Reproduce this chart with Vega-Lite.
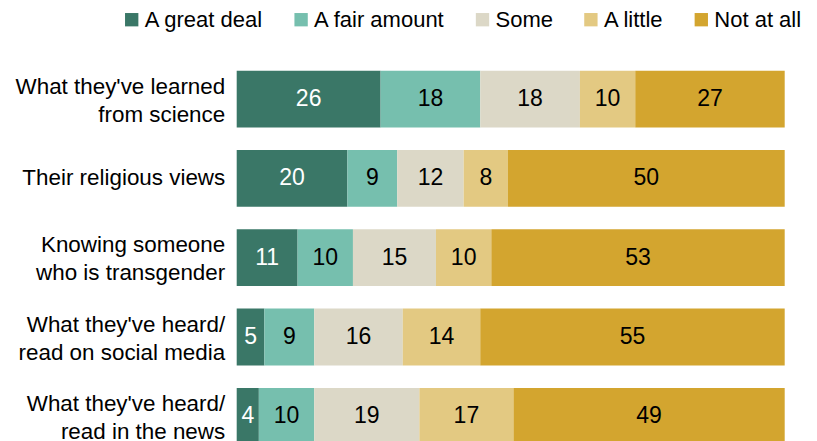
{
  "$schema": "https://vega.github.io/schema/vega-lite/v6.json",
  "autosize": {"type": "none"},
  "padding": {"left": 236.7, "top": 70.7, "right": 32.3, "bottom": -3.7},
  "width": 548,
  "height": 374,
  "background": "white",
  "config": {
    "view": {"stroke": null},
    "font": "Liberation Sans"
  },
  "data": {
    "values": [
      {"item": "What they've learned|from science", "response": "A great deal", "rank": 1, "pct": 26},
      {"item": "What they've learned|from science", "response": "A fair amount", "rank": 2, "pct": 18},
      {"item": "What they've learned|from science", "response": "Some", "rank": 3, "pct": 18},
      {"item": "What they've learned|from science", "response": "A little", "rank": 4, "pct": 10},
      {"item": "What they've learned|from science", "response": "Not at all", "rank": 5, "pct": 27},
      {"item": "Their religious views", "response": "A great deal", "rank": 1, "pct": 20},
      {"item": "Their religious views", "response": "A fair amount", "rank": 2, "pct": 9},
      {"item": "Their religious views", "response": "Some", "rank": 3, "pct": 12},
      {"item": "Their religious views", "response": "A little", "rank": 4, "pct": 8},
      {"item": "Their religious views", "response": "Not at all", "rank": 5, "pct": 50},
      {"item": "Knowing someone|who is transgender", "response": "A great deal", "rank": 1, "pct": 11},
      {"item": "Knowing someone|who is transgender", "response": "A fair amount", "rank": 2, "pct": 10},
      {"item": "Knowing someone|who is transgender", "response": "Some", "rank": 3, "pct": 15},
      {"item": "Knowing someone|who is transgender", "response": "A little", "rank": 4, "pct": 10},
      {"item": "Knowing someone|who is transgender", "response": "Not at all", "rank": 5, "pct": 53},
      {"item": "What they've heard/|read on social media", "response": "A great deal", "rank": 1, "pct": 5},
      {"item": "What they've heard/|read on social media", "response": "A fair amount", "rank": 2, "pct": 9},
      {"item": "What they've heard/|read on social media", "response": "Some", "rank": 3, "pct": 16},
      {"item": "What they've heard/|read on social media", "response": "A little", "rank": 4, "pct": 14},
      {"item": "What they've heard/|read on social media", "response": "Not at all", "rank": 5, "pct": 55},
      {"item": "What they've heard/|read in the news", "response": "A great deal", "rank": 1, "pct": 4},
      {"item": "What they've heard/|read in the news", "response": "A fair amount", "rank": 2, "pct": 10},
      {"item": "What they've heard/|read in the news", "response": "Some", "rank": 3, "pct": 19},
      {"item": "What they've heard/|read in the news", "response": "A little", "rank": 4, "pct": 17},
      {"item": "What they've heard/|read in the news", "response": "Not at all", "rank": 5, "pct": 49}
    ]
  },
  "encoding": {
    "y": {
      "field": "item",
      "type": "nominal",
      "sort": null,
      "title": null,
      "scale": {"paddingInner": 0.284, "paddingOuter": 0},
      "axis": {
        "domain": false,
        "ticks": false,
        "labelFont": "Liberation Sans",
        "labelFontSize": 22.4,
        "labelColor": "#000000",
        "labelPadding": 12,
        "labelLimit": 0,
        "labelLineHeight": 28,
        "labelOffset": {"condition": {"test": "indexof(datum.value, '|') >= 0", "value": -12.5}, "value": 0},
        "labelExpr": "split(datum.label, '|')"
      }
    },
    "x": {
      "field": "pct",
      "type": "quantitative",
      "stack": "zero",
      "scale": {"domain": [0, 99], "nice": false},
      "axis": null
    },
    "order": {"field": "rank", "type": "quantitative", "sort": "ascending"}
  },
  "layer": [
    {
      "mark": {"type": "bar"},
      "encoding": {
        "color": {
          "field": "response",
          "type": "nominal",
          "sort": ["A great deal", "A fair amount", "Some", "A little", "Not at all"],
          "scale": {
            "domain": ["A great deal", "A fair amount", "Some", "A little", "Not at all"],
            "range": ["#3a7767", "#76bfae", "#dcd8c7", "#e3c982", "#d3a52f"]
          },
          "legend": {
            "title": null,
            "orient": "none",
            "direction": "horizontal",
            "legendX": -116,
            "legendY": -62,
            "padding": 0,
            "symbolType": "square",
            "symbolSize": 178,
            "symbolStrokeWidth": 0,
            "symbolOpacity": 1,
            "labelFont": "Liberation Sans",
            "labelFontSize": 22,
            "labelColor": "#000000",
            "labelOffset": 2,
            "labelLimit": 0,
            "columnPadding": 26.4
          }
        }
      }
    },
    {
      "mark": {"type": "text", "font": "Liberation Sans", "fontSize": 23, "baseline": "middle", "align": "center"},
      "encoding": {
        "x": {"field": "pct", "type": "quantitative", "stack": "zero", "bandPosition": 0.5},
        "text": {"field": "pct", "type": "quantitative"},
        "color": {
          "field": "response",
          "type": "nominal",
          "sort": ["A great deal", "A fair amount", "Some", "A little", "Not at all"],
          "scale": {
            "domain": ["A great deal", "A fair amount", "Some", "A little", "Not at all"],
            "range": ["#ffffff", "#000000", "#000000", "#000000", "#000000"]
          },
          "legend": null
        }
      }
    }
  ],
  "resolve": {"scale": {"color": "independent"}, "legend": {"color": "independent"}}
}
